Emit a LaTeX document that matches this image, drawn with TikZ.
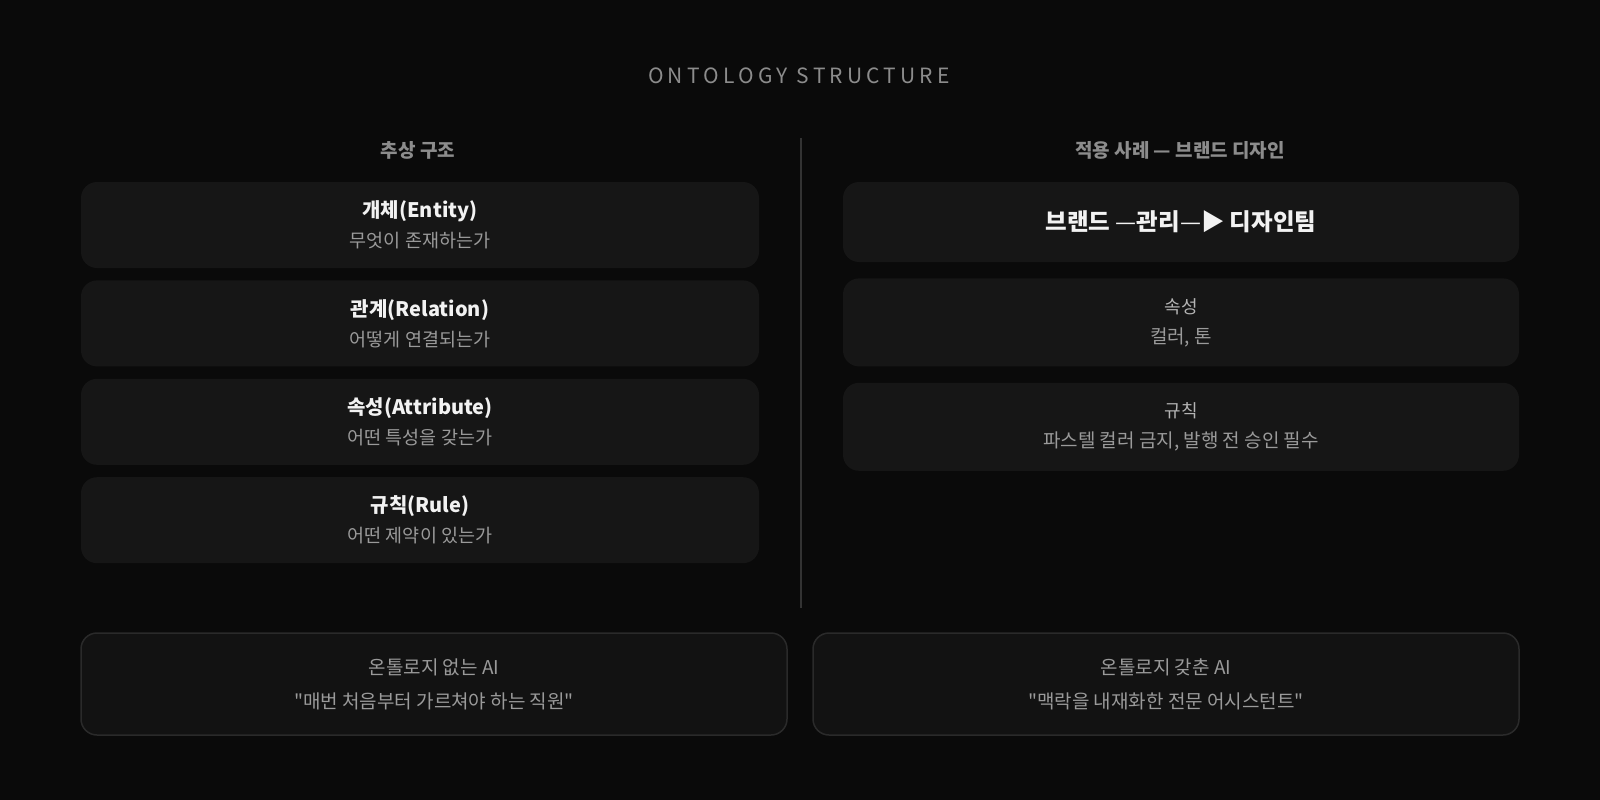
\documentclass[tikz,border=0pt]{standalone}
\usepackage{fontspec}
\setmainfont{Noto Sans CJK KR}[Ligatures=TeXOff]
\newfontfamily\spacedfont[LetterSpace=20]{Noto Sans CJK KR}
\usetikzlibrary{positioning}
\definecolor{bgdark}{HTML}{0A0A0A}
\definecolor{cardfill}{HTML}{161616}
\definecolor{basefill}{HTML}{121212}
\definecolor{baseedge}{HTML}{2A2A2A}
\definecolor{rulegray}{HTML}{333333}
\definecolor{headgray}{HTML}{8C8C8C}
\definecolor{subgray}{HTML}{9A9A9A}
\definecolor{lightgray}{HTML}{B4B4B4}
\definecolor{textwhite}{HTML}{F2F2F2}
\tikzstyle{card} = [rectangle, fill=cardfill, rounded corners=16pt,
    minimum width=678pt, minimum height=86pt, inner sep=0pt, align=center,
    font=\fontsize{18.5}{30}\selectfont]
\tikzstyle{case} = [card, minimum width=676pt, minimum height=88pt, font=\fontsize{19}{30}\selectfont]
\tikzstyle{compare} = [rectangle, draw=baseedge, line width=1.5pt, fill=basefill,
    rounded corners=16pt, minimum width=706pt, minimum height=102pt, inner sep=0pt,
    align=center, font=\fontsize{19}{34}\selectfont, text=subgray]
\tikzstyle{heading} = [font=\fontsize{19}{22}\selectfont\bfseries, text=headgray]
\tikzstyle{divider} = [draw=rulegray, line width=1.5pt]
\newcommand{\cardtitle}[1]{{\fontsize{20}{24}\selectfont\bfseries\color{textwhite}#1}}
\newcommand{\cardsub}[1]{{\color{subgray}#1}}
\newcommand{\casetitle}[1]{{\fontsize{18}{24}\selectfont\color{lightgray}#1}}

\begin{document}
\begin{tikzpicture}[x=1pt, y=-1pt]
			% Canvas
			\fill [bgdark] (0,0) rectangle (1600,800);
			\useasboundingbox (0,0) rectangle (1600,800);
			\node [font=\spacedfont\fontsize{21}{24}\selectfont, text=headgray] (title) at (799,76) {ONTOLOGY STRUCTURE};
			% Place nodes
			\node [heading] (abstract) at (418,150) {추상 구조};
			\node [heading] (applied) at (1180,150) {적용 사례 — 브랜드 디자인};
			\node [card] (entity) at (420,225) {\cardtitle{개체(Entity)}\\\cardsub{무엇이 존재하는가}};
			\node [card, below=12pt of entity] (relation) {\cardtitle{관계(Relation)}\\\cardsub{어떻게 연결되는가}};
			\node [card, below=12pt of relation] (attribute) {\cardtitle{속성(Attribute)}\\\cardsub{어떤 특성을 갖는가}};
			\node [card, below=12pt of attribute] (rule) {\cardtitle{규칙(Rule)}\\\cardsub{어떤 제약이 있는가}};
			\node [case, minimum height=80pt, font=\fontsize{23.5}{28}\selectfont, text=textwhite] (brand) at (1181,222)
				{\textbf{브랜드} —\textbf{관리}—\textbf{▶ 디자인팀}};
			\node [case, below=16pt of brand] (color) {\casetitle{속성}\\\cardsub{컬러, 톤}};
			\node [case, below=16pt of color] (policy) {\casetitle{규칙}\\\cardsub{파스텔 컬러 금지, 발행 전 승인 필수}};
			\node [compare] (without) at (434,684) {온톨로지 없는 AI\\"매번 처음부터 가르쳐야 하는 직원"};
			\node [compare] (with) at (1166,684) {온톨로지 갖춘 AI\\"맥락을 내재화한 전문 어시스턴트"};
			% Draw divider
			\coordinate (divtop) at (801,138);
			\coordinate (divbot) at (801,608);
			\path [divider] (divtop) -- (divbot);
	\end{tikzpicture}
\end{document}
